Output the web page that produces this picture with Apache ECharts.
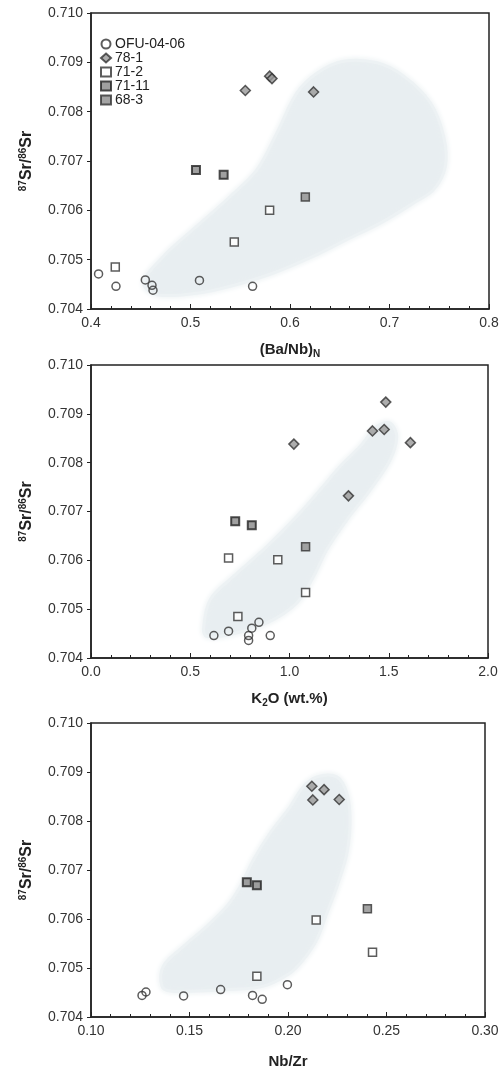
<!DOCTYPE html>
<html><head><meta charset="utf-8">
<script src="https://cdn.jsdelivr.net/npm/echarts@6/dist/echarts.min.js"></script>
<style>html,body{margin:0;padding:0;background:#fff}#c{width:503px;height:1070px}</style>
</head><body><div id="c"></div>
<script>
// ---------- data ----------
const seriesNames = ['OFU-04-06', '78-1', '71-2', '71-11', '68-3'];
const yTicks = [0.704, 0.705, 0.706, 0.707, 0.708, 0.709, 0.710];

// Panel 1: (Ba/Nb)N
const p1_ofu = [[0.4076,0.70471],[0.4251,0.70446],[0.4546,0.70459],[0.4613,0.70448],[0.4623,0.70438],[0.509,0.70458],[0.5624,0.70446]];
const p1_781 = [[0.5551,0.70843],[0.5795,0.70872],[0.5819,0.70867],[0.6237,0.7084]];
const p1_712 = [[0.4244,0.70485],[0.544,0.70536],[0.5795,0.706]];
const p1_7111 = [[0.5055,0.70682],[0.5333,0.70672]];
const p1_683 = [[0.6154,0.70627]];
const p1_field = [[0.4529,0.70453],[0.473,0.70507],[0.5065,0.70568],[0.54,0.70628],[0.5668,0.70682],[0.5869,0.70757],[0.607,0.70838],[0.6271,0.70878],[0.6539,0.70902],[0.6874,0.70899],[0.7142,0.70872],[0.741,0.70818],[0.7544,0.7075],[0.7561,0.70689],[0.7443,0.70642],[0.7242,0.70615],[0.6907,0.70574],[0.6573,0.70541],[0.6237,0.70507],[0.5835,0.70473],[0.54,0.70446],[0.5065,0.70432],[0.4663,0.70429]];

// Panel 2: K2O (wt.%)
const p2_ofu = [[0.619,0.70446],[0.693,0.70455],[0.794,0.70446],[0.794,0.70436],[0.81,0.70461],[0.846,0.70473],[0.903,0.70446]];
const p2_781 = [[1.022,0.70838],[1.297,0.70732],[1.418,0.70865],[1.477,0.70868],[1.485,0.70924],[1.609,0.70841]];
const p2_712 = [[0.693,0.70605],[0.74,0.70485],[0.941,0.70601],[1.081,0.70534]];
const p2_7111 = [[0.7265,0.7068],[0.81,0.70672]];
const p2_683 = [[1.081,0.70628]];
const p2_field = [[0.567,0.70458],[0.6,0.70519],[0.718,0.70567],[0.886,0.70628],[1.037,0.7069],[1.154,0.70744],[1.255,0.70792],[1.356,0.70833],[1.44,0.70874],[1.507,0.70881],[1.54,0.70853],[1.507,0.70806],[1.406,0.70744],[1.289,0.70683],[1.188,0.70622],[1.121,0.70567],[1.037,0.70513],[0.886,0.70472],[0.701,0.70448],[0.584,0.70444]];

// Panel 3: Nb/Zr
const p3_ofu = [[0.1259,0.70444],[0.1279,0.70451],[0.147,0.70443],[0.1658,0.70456],[0.182,0.70444],[0.1869,0.70436],[0.1997,0.70466]];
const p3_781 = [[0.2121,0.70871],[0.2183,0.70864],[0.2126,0.70843],[0.226,0.70844]];
const p3_712 = [[0.1842,0.70483],[0.2143,0.70598],[0.2429,0.70532]];
const p3_7111 = [[0.1791,0.70675],[0.1842,0.70669]];
const p3_683 = [[0.2403,0.70621]];
const p3_field = [[0.136,0.70463],[0.1368,0.70504],[0.147,0.70544],[0.1588,0.70585],[0.169,0.70626],[0.1757,0.70666],[0.1825,0.70721],[0.1909,0.70775],[0.2011,0.70829],[0.2078,0.7087],[0.2146,0.7089],[0.2248,0.7089],[0.2299,0.70856],[0.2315,0.70802],[0.2299,0.70734],[0.2248,0.70666],[0.2197,0.70612],[0.2146,0.70558],[0.2078,0.70517],[0.2011,0.7049],[0.1875,0.70463],[0.1707,0.70456],[0.1538,0.70453],[0.1402,0.70453]];

// x-axis ranges and tick steps
const xMin = [0.4, 0.0, 0.10];
const xMax = [0.8, 2.0, 0.30];
const xStep = [0.1, 0.5, 0.05];
const xDecimals = [1, 1, 2];
const xMinorSplits = [5, 5, 5];
// ---------- chart ----------
const panels = [
  {ofu:p1_ofu, r781:p1_781, r712:p1_712, r7111:p1_7111, r683:p1_683, field:p1_field},
  {ofu:p2_ofu, r781:p2_781, r712:p2_712, r7111:p2_7111, r683:p2_683, field:p2_field},
  {ofu:p3_ofu, r781:p3_781, r712:p3_712, r7111:p3_7111, r683:p3_683, field:p3_field}
];
const grids = [
  {left:91, top:13, width:398, height:296},
  {left:91, top:365, width:397, height:293},
  {left:91, top:723, width:394, height:295}
];
const FONT = '"Liberation Sans", Arial, sans-serif';
const xNames = [
  '{b|(Ba/Nb)}{s|N}',
  '{b|K}{s|2}{b|O (wt.%)}',
  '{b|Nb/Zr}'
];
const richX = {
  b:{fontFamily:FONT, fontWeight:'bold', fontSize:15, color:'#222'},
  s:{fontFamily:FONT, fontWeight:'bold', fontSize:10, color:'#222', verticalAlign:'bottom', padding:[8,0,0,0]}
};
const yName = '{p|87}{b|Sr/}{p|86}{b|Sr}';
const richY = {
  b:{fontFamily:FONT, fontWeight:'bold', fontSize:16, color:'#222'},
  p:{fontFamily:FONT, fontWeight:'bold', fontSize:10, color:'#222', verticalAlign:'top', padding:[0,0,8,0]}
};

const option = {
  backgroundColor:'#fff',
  animation:false,
  legend:{
    left:95, top:32, orient:'vertical', itemGap:0, itemWidth:10, itemHeight:9,
    data:seriesNames,
    textStyle:{fontFamily:FONT, fontSize:14, color:'#222', lineHeight:14, padding:[0,0,0,-1]}
  },
  grid: grids.map(g => Object.assign({show:true, borderColor:'#222', borderWidth:1.5, backgroundColor:'transparent'}, g)),
  xAxis: grids.map((g,i) => ({
    gridIndex:i, type:'value', min:xMin[i], max:xMax[i], interval:xStep[i],
    name:xNames[i], nameLocation:'middle', nameGap:i===2?37:32,
    nameTextStyle:{rich:richX},
    axisLine:{show:true, onZero:false, lineStyle:{color:'#222', width:1.5}},
    axisTick:{show:true, inside:true, length:5, lineStyle:{color:'#222'}},
    minorTick:{show:true, splitNumber:xMinorSplits[i], length:3, lineStyle:{color:'#222'}},
    splitLine:{show:false},
    axisLabel:{fontFamily:FONT, fontSize:14, color:'#333', margin:7,
      formatter:v => v.toFixed(xDecimals[i])}
  })),
  yAxis: grids.map((g,i) => ({
    gridIndex:i, type:'value', min:yTicks[0], max:yTicks[yTicks.length-1], interval:0.001,
    name:yName, nameLocation:'middle', nameRotate:90, nameGap:55,
    nameTextStyle:{rich:richY},
    axisLine:{show:true, onZero:false, lineStyle:{color:'#222', width:1.5}},
    axisTick:{show:true, inside:false, length:4, lineStyle:{color:'#222'}},
    splitLine:{show:false},
    axisLabel:{fontFamily:FONT, fontSize:14, color:'#333', margin:8,
      formatter:v => v.toFixed(3)}
  })),
  series:[]
};

panels.forEach((p,i) => {
  option.series.push({
    type:'custom', xAxisIndex:i, yAxisIndex:i, silent:true, z:1, clip:true,
    data:[0],
    renderItem:(params, api) => ({
      type:'polygon',
      shape:{points:p.field.map(pt => api.coord(pt)), smooth:0.35},
      style:{fill:'#e8eef1', stroke:'#edf2f4', lineWidth:3, shadowBlur:6, shadowColor:'#ebf0f2'}
    })
  });
  const common = {type:'scatter', xAxisIndex:i, yAxisIndex:i, z:5};
  option.series.push(Object.assign({}, common, {name:'OFU-04-06', data:p.ofu, symbol:'circle', symbolSize:8,
    itemStyle:{color:'rgba(255,255,255,0)', borderColor:'#333', borderWidth:1.5}}));
  option.series.push(Object.assign({}, common, {name:'78-1', data:p.r781, symbol:'diamond', symbolSize:[10,10],
    itemStyle:{color:'#999', borderColor:'#333', borderWidth:1.5}}));
  option.series.push(Object.assign({}, common, {name:'71-2', data:p.r712, symbol:'rect', symbolSize:8,
    itemStyle:{color:'#fff', borderColor:'#333', borderWidth:1.5}}));
  option.series.push(Object.assign({}, common, {name:'71-11', data:p.r7111, symbol:'rect', symbolSize:8,
    itemStyle:{color:'#888', borderColor:'#222', borderWidth:2}}));
  option.series.push(Object.assign({}, common, {name:'68-3', data:p.r683, symbol:'rect', symbolSize:8,
    itemStyle:{color:'#8d8d8d', borderColor:'#333', borderWidth:1.5}}));
});

const chart = echarts.init(document.getElementById('c'), null, {renderer:'canvas'});
chart.setOption(option);
</script>
</body></html>
